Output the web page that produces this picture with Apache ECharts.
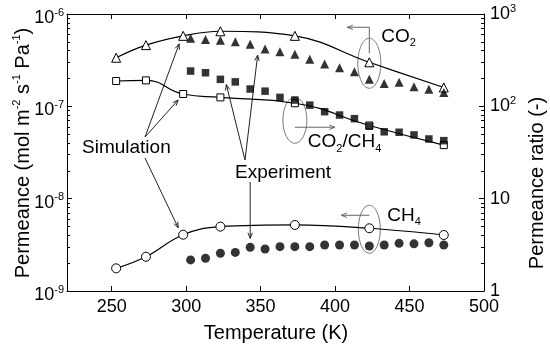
<!DOCTYPE html>
<html><head><meta charset="utf-8">
<script src="https://cdn.jsdelivr.net/npm/echarts@6/dist/echarts.min.js"></script>
<style>html,body{margin:0;padding:0;background:#fff}#c{width:550px;height:349px}</style>
</head><body><div id="c"></div><script>
// ---- data ----
const simT = [253, 273, 298, 323, 373, 423, 473];
const co2Sim = [3.36e-7, 4.6e-7, 5.8e-7, 6.5e-7, 5.8e-7, 3.0e-7, 1.6e-7];
const ratioSim = [188, 191, 136, 125, 108, 62, 38];
const ch4Sim = [1.76e-9, 2.35e-9, 4.07e-9, 4.98e-9, 5.19e-9, 4.78e-9, 4.04e-9];
const expT = [303, 313, 323, 333, 343, 353, 363, 373, 383, 393, 403, 413, 423, 433, 443, 453, 463, 473];
const co2Exp = [5.45e-7, 5.3e-7, 5.2e-7, 5.0e-7, 4.7e-7, 4.18e-7, 3.9e-7, 3.66e-7, 3.23e-7, 2.87e-7, 2.62e-7, 2.37e-7, 1.96e-7, 1.77e-7, 1.82e-7, 1.63e-7, 1.53e-7, 1.41e-7];
const ratioExp = [241, 231, 196, 184, 154, 146, 125, 117, 103, 87.5, 80.5, 73.5, 61, 53, 52.4, 49, 44.3, 42.5];
const ch4Exp = [2.17e-9, 2.26e-9, 2.56e-9, 2.62e-9, 2.97e-9, 2.85e-9, 3.02e-9, 3.02e-9, 3.02e-9, 3.15e-9, 3.15e-9, 3.15e-9, 3.07e-9, 3.15e-9, 3.28e-9, 3.24e-9, 3.33e-9, 3.15e-9];
const xLabels = [250, 300, 350, 400, 450, 500];
const xTickVals = [250, 300, 350, 400, 450];
const leftDecades = [-9, -8, -7, -6];
const rightDecades = [0, 1, 2, 3];

// ---- helpers ----
const FONT = 'Liberation Sans';
const minorLogs = (decs) => {
  const out = [];
  for (let i = 0; i < decs.length - 1; i++) for (let m = 2; m <= 9; m++) out.push(decs[i] + Math.log10(m));
  return out;
};
const pairs = (xs, ys) => xs.map((x, i) => [x, ys[i]]);
const supRich = {
  b: {fontSize: 18, lineHeight: 22, fontFamily: FONT, color: '#000'},
  s: {fontSize: 11, lineHeight: 11, verticalAlign: 'top', fontFamily: FONT, color: '#000'}
};
const subRich = {
  a: {fontSize: 19, lineHeight: 24, fontFamily: FONT, color: '#000'},
  b: {fontSize: 11, lineHeight: 11, verticalAlign: 'bottom', fontFamily: FONT, color: '#000'},
  s: {fontSize: 11, lineHeight: 11, verticalAlign: 'top', fontFamily: FONT, color: '#000'}
};
const axisLine = {show: true, lineStyle: {color: '#000', width: 1}};
const tickStyle = {color: '#000', width: 1};

const chart = echarts.init(document.getElementById('c'), null, {renderer: 'canvas'});
const xBase = (pos, showLabel) => ({
  type: 'value', position: pos, min: 220, max: 500,
  axisLine: axisLine,
  axisTick: {show: true, inside: true, length: 5, customValues: xTickVals, lineStyle: tickStyle},
  axisLabel: showLabel ? {customValues: xLabels, fontSize: 18, fontFamily: FONT, color: '#000', margin: 7} : {show: false},
  splitLine: {show: false}
});
const logLabel = (v) => {
  const e = Math.round(Math.log10(v));
  return '{b|10}{s|' + e + '}';
};
const rightLabel = (v) => {
  const e = Math.round(Math.log10(v));
  if (e === 0) return '{b|1}';
  if (e === 1) return '{b|10}';
  return '{b|10}{s|' + e + '}';
};

const symOpen = {color: '#fff', borderColor: '#000', borderWidth: 1};
const symFill = {color: '#000', borderColor: '#000', borderWidth: 0};
const lineSt = {color: '#000', width: 1.2};

chart.setOption({
  animation: false,
  grid: {left: 67, right: 66, top: 14, bottom: 58, containLabel: false, outerBoundsMode: 'none'},
  xAxis: [xBase('bottom', true), xBase('top', false)],
  yAxis: [
    {type: 'log', logBase: 10, min: 1e-9, max: 1e-6, position: 'left', splitNumber: 3,
     axisLine: axisLine, axisTick: {show: true, inside: true, length: 5, lineStyle: tickStyle},
     axisLabel: {formatter: logLabel, rich: supRich, margin: 3, color: '#000', padding: [8, 0, 0, 0]},
     splitLine: {show: false}, minorTick: {show: false}},
    {type: 'log', logBase: 10, min: 1, max: 1000, position: 'right', splitNumber: 3,
     axisLine: axisLine, axisTick: {show: true, inside: true, length: 5, lineStyle: tickStyle},
     axisLabel: {formatter: rightLabel, rich: supRich, margin: 6, color: '#000'},
     splitLine: {show: false}, minorTick: {show: false}},
    {type: 'value', min: -9, max: -6, position: 'left', axisLine: {show: false},
     axisTick: {show: true, inside: true, length: 3, customValues: minorLogs(leftDecades), lineStyle: tickStyle},
     axisLabel: {show: false}, splitLine: {show: false}},
    {type: 'value', min: 0, max: 3, position: 'right', axisLine: {show: false},
     axisTick: {show: true, inside: true, length: 3, customValues: minorLogs(rightDecades), lineStyle: tickStyle},
     axisLabel: {show: false}, splitLine: {show: false}}
  ],
  series: [
    {name: 'CO2 sim', type: 'line', xAxisIndex: 0, yAxisIndex: 0, data: pairs(simT, co2Sim), smooth: 0.4,
     symbol: 'triangle', symbolSize: 9, itemStyle: symOpen, lineStyle: lineSt, z: 2},
    {name: 'ratio sim', type: 'line', xAxisIndex: 0, yAxisIndex: 1, data: pairs(simT, ratioSim), smooth: 0.5,
     symbol: 'rect', symbolSize: 7, itemStyle: symOpen, lineStyle: lineSt, z: 2},
    {name: 'CH4 sim', type: 'line', xAxisIndex: 0, yAxisIndex: 0, data: pairs(simT, ch4Sim), smooth: 0.4,
     symbol: 'circle', symbolSize: 9, itemStyle: symOpen, lineStyle: lineSt, z: 2},
    {name: 'CO2 exp', type: 'scatter', xAxisIndex: 0, yAxisIndex: 0, data: pairs(expT, co2Exp),
     symbol: 'triangle', symbolSize: 9, itemStyle: symFill, z: 3},
    {name: 'ratio exp', type: 'scatter', xAxisIndex: 0, yAxisIndex: 1, data: pairs(expT, ratioExp),
     symbol: 'rect', symbolSize: 7.5, itemStyle: symFill, z: 3},
    {name: 'CH4 exp', type: 'scatter', xAxisIndex: 0, yAxisIndex: 0, data: pairs(expT, ch4Exp),
     symbol: 'circle', symbolSize: 9, itemStyle: symFill, z: 3}
  ]
});

// ---- annotations anchored on data points ----
const P = (t, v) => chart.convertToPixel({xAxisIndex: 0, yAxisIndex: 0}, [t, v]);
const R = (t, v) => chart.convertToPixel({xAxisIndex: 0, yAxisIndex: 1}, [t, v]);
function arrow(pts, color) {
  const n = pts.length;
  const [x1, y1] = pts[n - 2], [x2, y2] = pts[n - 1];
  const ang = Math.atan2(y2 - y1, x2 - x1);
  const h = 6, w = 0.38;
  const head = [[x2 + h * Math.cos(ang + Math.PI - w), y2 + h * Math.sin(ang + Math.PI - w)], [x2, y2],
                [x2 + h * Math.cos(ang + Math.PI + w), y2 + h * Math.sin(ang + Math.PI + w)]];
  return [
    {type: 'polyline', silent: true, shape: {points: pts}, style: {stroke: color, lineWidth: 1, fill: 'none'}},
    {type: 'polyline', silent: true, shape: {points: head}, style: {stroke: color, lineWidth: 1, fill: 'none'}}
  ];
}
function ell(cx, cy, rx, ry) {
  return {type: 'ellipse', silent: true, shape: {cx, cy, rx, ry}, style: {stroke: '#777', lineWidth: 1, fill: 'none'}};
}
function txt(x, y, text, rich, align, rot) {
  return {type: 'text', silent: true, x, y, rotation: rot || 0,
    style: {text, rich, x: 0, y: 0, align: align || 'left', verticalAlign: 'middle',
            textAlign: align || 'left', textVerticalAlign: 'middle', fill: '#000'}};
}
const els = [];
// CO2
const cCO2 = P(423, co2Sim[5]);
const eCO2 = [cCO2[0], cCO2[1] + 1];
els.push(ell(eCO2[0], eCO2[1], 11.5, 25));
els.push(...arrow([[eCO2[0], eCO2[1] - 10], [eCO2[0], eCO2[1] - 36], [eCO2[0] - 22, eCO2[1] - 36]], '#666'));
els.push(txt(eCO2[0] + 12, eCO2[1] - 27, '{a|CO}{b|2}', subRich));
// CH4
const cCH4 = P(423, ch4Sim[5]);
const eCH4 = [cCH4[0], cCH4[1] + 1];
els.push(ell(eCH4[0], eCH4[1], 11, 24));
els.push(...arrow([[eCH4[0], eCH4[1] - 14], [eCH4[0] - 28, eCH4[1] - 14]], '#666'));
els.push(txt(eCH4[0] + 18, eCH4[1] - 14, '{a|CH}{b|4}', subRich));
// CO2/CH4
const cR = R(373, ratioSim[4]);
const eR = [cR[0], cR[1] + 17];
els.push(ell(eR[0], eR[1], 12, 23));
els.push(...arrow([[eR[0], eR[1] + 7], [eR[0] + 40, eR[1] + 7]], '#666'));
els.push(txt(eR[0] + 13, eR[1] + 22, '{a|CO}{b|2}{a|/CH}{b|4}', subRich));
// Simulation
const s1 = P(298, co2Sim[2]), s2 = R(298, ratioSim[2]), s3 = P(298, ch4Sim[2]);
els.push(txt(82, 148, '{a|Simulation}', subRich));
els.push(...arrow([[145, 137], [s1[0] - 4, s1[1] + 8]], '#222'));
els.push(...arrow([[145, 137], [s2[0] - 5, s2[1] + 6]], '#222'));
els.push(...arrow([[145, 158], [s3[0] - 5, s3[1] - 7]], '#222'));
// Experiment
const x1a = R(323, ratioExp[2]), x1b = R(333, ratioExp[3]);
const x2a = P(343, co2Exp[4]), x2b = P(353, co2Exp[5]);
const x3 = P(343, ch4Exp[4]);
els.push(txt(235, 173, '{a|Experiment}', subRich));
els.push(...arrow([[245, 160], [(x1a[0] + x1b[0]) / 2 - 1.5, (x1a[1] + x1b[1]) / 2 + 4]], '#222'));
els.push(...arrow([[245, 160], [(x2a[0] + x2b[0]) / 2, (x2a[1] + x2b[1]) / 2 + 8.5]], '#222'));
els.push(...arrow([[x3[0], 182], [x3[0], x3[1] - 9]], '#222'));
// Axis titles
const titleRich = {
  a: {fontSize: 20, lineHeight: 24, fontFamily: FONT, color: '#000'},
  s: {fontSize: 11, lineHeight: 11, verticalAlign: 'top', fontFamily: FONT, color: '#000'}
};
els.push(txt(23, 153, '{a|Permeance (mol m}{s|-2}{a| s}{s|-1}{a| Pa}{s|-1}{a|)}', titleRich, 'center', Math.PI / 2));
els.push(txt(537, 183, '{a|Permeance ratio (-)}', titleRich, 'center', Math.PI / 2));
els.push(txt(276, 333, '{a|Temperature (K)}', titleRich, 'center', 0));

chart.setOption({graphic: {elements: els}});
</script></body></html>
